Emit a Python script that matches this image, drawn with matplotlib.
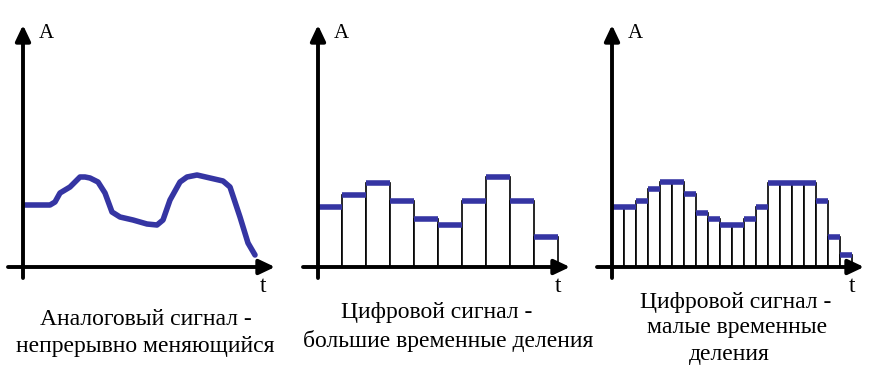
import matplotlib.pyplot as plt

plt.rcParams['font.family'] = ['Liberation Serif', 'DejaVu Serif']

analog_t = [2, 27, 32, 37, 47, 57, 62, 67, 75, 82, 89, 97, 110, 124, 134, 140,
            147, 157, 164, 174, 187, 200, 207, 217, 225, 232]
analog_a = [62, 62, 65, 74, 80, 90, 90, 89, 85, 74, 55, 50, 47, 43, 42, 47,
            67, 85, 90, 92, 89, 86, 80, 50, 24, 12]

# digital signal, large time divisions
coarse_a = [60, 72, 84, 66, 48, 42, 66, 90, 66, 30]
coarse_w = 24

# digital signal, small time divisions
fine_a = [60, 60, 66, 78, 85, 85, 73, 54, 48, 42, 42, 48, 60, 84, 84, 84, 84, 66, 30, 12]
fine_w = 12

captions = [
    ['Аналоговый сигнал -', 'непрерывно меняющийся'],
    ['Цифровой сигнал -', 'большие временные деления'],
    ['Цифровой сигнал -', 'малые временные', 'деления'],
]
caption_pos = [
    [(123, -58), (122, -85)],
    [(119, -51), (130, -80)],
    [(124, -41), (125, -66), (117, -93)],
]

blue = '#3535a3'
origins = [23, 318, 612]

fig = plt.figure(figsize=(8.75, 3.89), dpi=100)
axes = []
for ox in origins:
    ax = fig.add_axes([(ox - 20) / 875, 0, 282 / 875, 1])
    ax.set_xlim(-20, 262)
    ax.set_ylim(-122, 267)
    ax.axis('off')
    axes.append(ax)

# analog
axes[0].plot(analog_t, analog_a, color=blue, lw=4, solid_capstyle='round',
             solid_joinstyle='round', zorder=3)

# digital panels
for ax, vals, w in [(axes[1], coarse_a, coarse_w), (axes[2], fine_a, fine_w)]:
    left = [i * w for i in range(len(vals))]
    ax.bar(left, vals, width=w, align='edge', color='white',
           edgecolor='black', linewidth=1.2, zorder=2)
    ax.hlines(vals, left, [l + w for l in left], colors=blue, lw=4,
              capstyle='butt', zorder=3)

for i, ax in enumerate(axes):
    arrow = dict(arrowstyle='-|>,head_length=9.5,head_width=4.5',
                 mutation_scale=1, lw=2.8, color='black', shrinkA=0, shrinkB=0)
    ax.annotate('', xy=(252, 0), xytext=(-15, 0), arrowprops=arrow, zorder=5)
    ax.annotate('', xy=(0, 242), xytext=(0, -11), arrowprops=arrow, zorder=5)
    ax.text(23, 233, 'A', fontsize=15, ha='center', va='center')
    ax.text(240, -20, 't', fontsize=17, ha='center', va='center')
    for line, (x, y) in zip(captions[i], caption_pos[i]):
        ax.text(x, y, line, fontsize=17, ha='center', va='baseline')

plt.savefig('out.png', dpi=100, facecolor='white')
